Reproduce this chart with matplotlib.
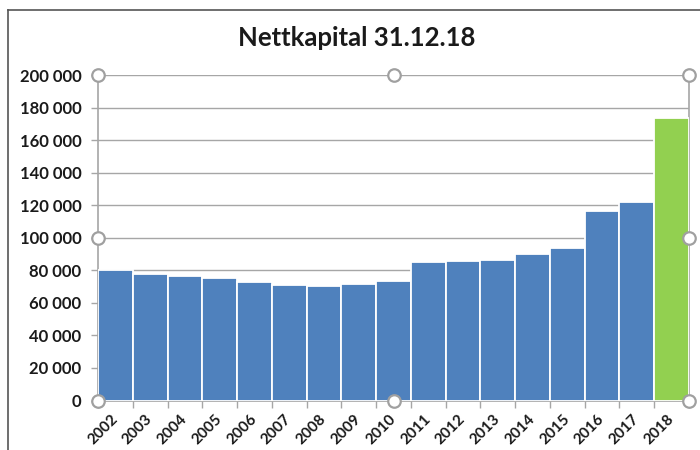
import matplotlib
matplotlib.use("Agg")
import matplotlib.pyplot as plt
from matplotlib.lines import Line2D
import matplotlib.transforms as mtransforms
import numpy as np

plt.rcParams['font.family'] = ['Lato', 'DejaVu Sans']

years = ['2002', '2003', '2004', '2005', '2006', '2007', '2008', '2009', '2010',
         '2011', '2012', '2013', '2014', '2015', '2016', '2017', '2018']
values = [80300, 78000, 76600, 75100, 72900, 70800, 70600, 71600, 73700,
          84900, 85500, 86200, 89800, 93500, 116300, 122100, 173800]
colors = ['#4F81BD'] * 16 + ['#92D050']
yticks = [0, 20000, 40000, 60000, 80000, 100000, 120000, 140000, 160000, 180000, 200000]
ytick_labels = ['0', '20 000', '40 000', '60 000', '80 000', '100 000', '120 000',
                '140 000', '160 000', '180 000', '200 000']
title = 'Nettkapital 31.12.18'

W, H = 700, 450
fig = plt.figure(figsize=(7, 4.5), dpi=100)
ax = fig.add_axes([98 / W, 1 - 400.5 / H, (689 - 98) / W, (400.5 - 75) / H])

x = np.arange(len(years))
ax.bar(x, values, width=1.0, color=colors, edgecolor='white', linewidth=1.3, zorder=3)
ax.set_xlim(-0.5, len(years) - 0.5)
ax.set_ylim(0, 200000)

ax.set_yticks(yticks)
ax.set_yticklabels(ytick_labels, fontsize=12, fontweight='bold', color='#1a1a1a')
ax.yaxis.grid(True, color='#a6a6a6', linewidth=1.0, zorder=0)
ax.tick_params(axis='y', length=5, width=1, color='#a6a6a6', pad=7)

ax.set_xticks(x)
ax.set_xticklabels(years, rotation=45, ha='right', va='center', rotation_mode='anchor',
                   fontsize=11, fontweight='bold', color='#1a1a1a')
offset = mtransforms.ScaledTranslation(5 / 72, 0, fig.dpi_scale_trans)
for lab in ax.get_xticklabels():
    lab.set_transform(lab.get_transform() + offset)
ax.set_xticks(np.arange(len(years) + 1) - 0.5, minor=True)
ax.tick_params(axis='x', which='major', length=0, pad=12)
ax.tick_params(axis='x', which='minor', length=5, width=1, color='#a6a6a6')

for s in ['top', 'right', 'left', 'bottom']:
    ax.spines[s].set_color('#a6a6a6')
    ax.spines[s].set_linewidth(1.2)
ax.spines['top'].set_visible(False)

# selection handles
for (hx, hy) in [(0, 0), (0.5, 0), (1, 0), (0, 0.5), (1, 0.5), (0, 1), (0.5, 1), (1, 1)]:
    ax.plot([hx], [hy], marker='o', markersize=9, markerfacecolor='white',
            markeredgecolor='#a0a0a0', markeredgewidth=1.6, transform=ax.transAxes,
            clip_on=False, zorder=10)

fig.text(357 / W, 1 - 38 / H, title, ha='center', va='center', fontsize=18.5,
         fontweight='bold', color='#1a1a1a')

# outer frame lines
fig.add_artist(Line2D([8 / W, 1], [1 - 10 / H, 1 - 10 / H], color='#555555', linewidth=1.2,
                      transform=fig.transFigure))
fig.add_artist(Line2D([8 / W, 8 / W], [0, 1 - 10 / H], color='#555555', linewidth=1.2,
                      transform=fig.transFigure))

fig.savefig('out.png', dpi=100)
